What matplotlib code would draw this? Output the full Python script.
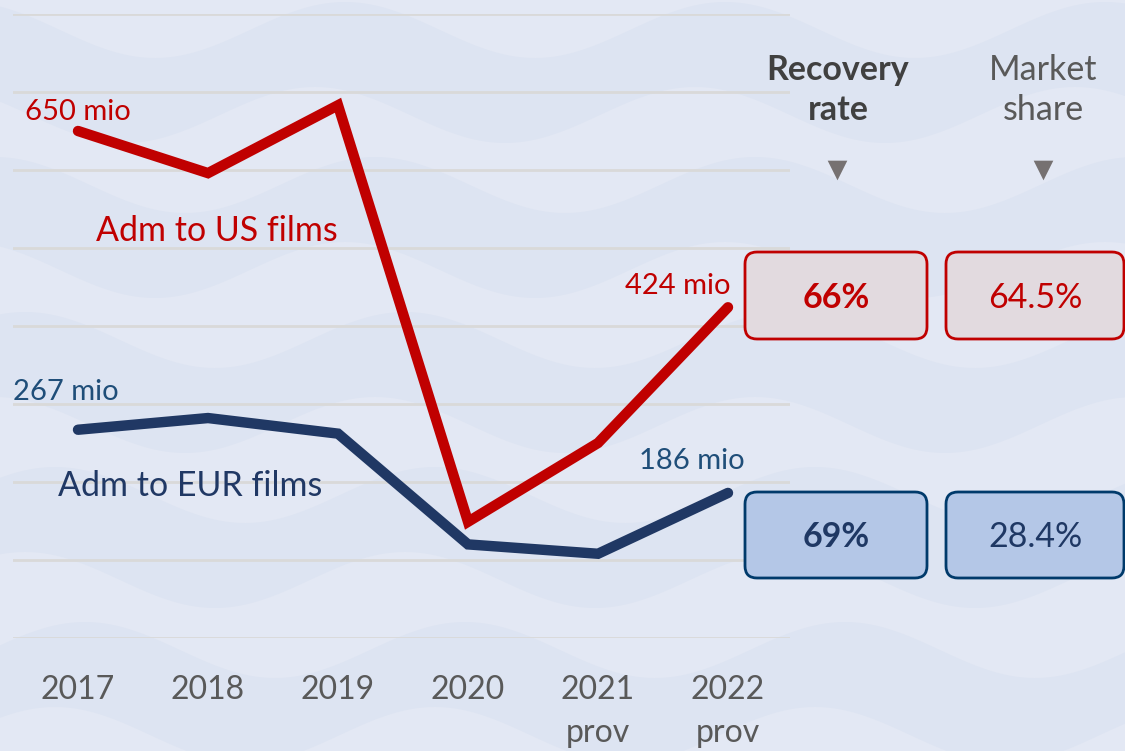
import numpy as np
import matplotlib.pyplot as plt
from matplotlib.patches import FancyBboxPatch

# data
years = [2017, 2018, 2019, 2020, 2021, 2022]
year_labels = ["2017", "2018", "2019", "2020", "2021\nprov", "2022\nprov"]
us_adm = [650, 596, 683, 149, 250, 424]
eur_adm = [267, 282, 262, 120, 108, 186]
recovery = ["66%", "69%"]
market_share = ["64.5%", "28.4%"]

RED = "#c00000"
NAVY = "#203864"
BLUE_TXT = "#1f4e79"
GRAY = "#595959"
FONT = "Lato"

W, H = 1125, 751
fig = plt.figure(figsize=(W / 100, H / 100), dpi=100)

# wavy background
bg = fig.add_axes([0, 0, 1, 1], zorder=0)
bg.set_xlim(0, W)
bg.set_ylim(H, 0)
bg.axis("off")
bg.add_patch(plt.Rectangle((0, 0), W, H, color="#dde4f2", zorder=0))
xs = np.linspace(0, W, 400)
for i, yc in enumerate(range(-40, 800, 155)):
    top = yc + 28 * np.sin(2 * np.pi * (xs - 30 * i) / 380)
    bot = yc + 70 + 28 * np.sin(2 * np.pi * (xs - 30 * i - 60) / 380)
    bg.fill_between(xs, top, bot, color="#e3e8f4", lw=0, zorder=1)

# main chart
ax = fig.add_axes([13 / W, 1 - 638 / H, 777 / W, 624 / H], zorder=2)
ax.set_xlim(2016.5, 2022.477)
ax.set_ylim(0, 800)
ax.patch.set_alpha(0)
for s in ax.spines.values():
    s.set_visible(False)
ax.set_yticks(range(0, 801, 100))
ax.set_yticklabels([])
ax.tick_params(left=False, bottom=False)
ax.grid(axis="y", color="#d9d9d9", lw=2)
ax.set_axisbelow(True)
ax.set_xticks(years)
ax.set_xticklabels(year_labels, fontsize=23, color=GRAY, family=FONT,
                   linespacing=1.55)
ax.tick_params(axis="x", pad=23)

ax.plot(years, us_adm, color=RED, lw=7.5, solid_capstyle="round",
        solid_joinstyle="miter", zorder=3)
ax.plot(years, eur_adm, color=NAVY, lw=7.5, solid_capstyle="round",
        solid_joinstyle="miter", zorder=3)

ax.text(2016.59, 674, f"{us_adm[0]} mio", color=RED, fontsize=21,
        family=FONT, ha="left", va="center", clip_on=False)
ax.text(2016.5, 315, f"{eur_adm[0]} mio", color=BLUE_TXT,
        fontsize=21, family=FONT, ha="left", va="center", clip_on=False)
ax.text(2022.02, 451, f"{us_adm[-1]} mio", color=RED, fontsize=21,
        family=FONT, ha="right", va="center")
ax.text(2022.13, 227, f"{eur_adm[-1]} mio", color=BLUE_TXT,
        fontsize=21, family=FONT, ha="right", va="center")
ax.text(2017.14, 522, "Adm to US films", color=RED, fontsize=24.5,
        family=FONT, ha="left", va="center")
ax.text(2016.85, 195, "Adm to EUR films", color=NAVY, fontsize=24.5,
        family=FONT, ha="left", va="center")

# right panel, figure pixel coords
ov = fig.add_axes([0, 0, 1, 1], zorder=3)
ov.set_xlim(0, W)
ov.set_ylim(H, 0)
ov.axis("off")

ov.text(838, 90, "Recovery\nrate", ha="center", va="center", fontsize=24.5,
        fontweight="bold", color="#404040", family=FONT, linespacing=1.3)
ov.text(1043, 90, "Market\nshare", ha="center", va="center", fontsize=24.5,
        color=GRAY, family=FONT, linespacing=1.3)
ov.scatter([837, 1043], [170, 170], marker="v", s=200, color="#767171", lw=0)

cols = [(745, 927), (946, 1124)]
rows = [(252, 339, RED, "#e2dadf", RED), (492, 578, "#003a6b", "#b4c7e7", "#1f3864")]
for r, (y0, y1, ec, fc, tc) in enumerate(rows):
    for c, (x0, x1) in enumerate(cols):
        ov.add_patch(FancyBboxPatch((x0 + 12, y0 + 12), x1 - x0 - 24, y1 - y0 - 24,
                                    boxstyle="round,pad=12", fc=fc, ec=ec, lw=2))
        txt = recovery[r] if c == 0 else market_share[r]
        ov.text((x0 + x1) / 2, (y0 + y1) / 2 + 2, txt, ha="center", va="center",
                fontsize=24.5, color=tc, family=FONT,
                fontweight="bold" if c == 0 else "normal")

fig.savefig("out.png", dpi=100)
